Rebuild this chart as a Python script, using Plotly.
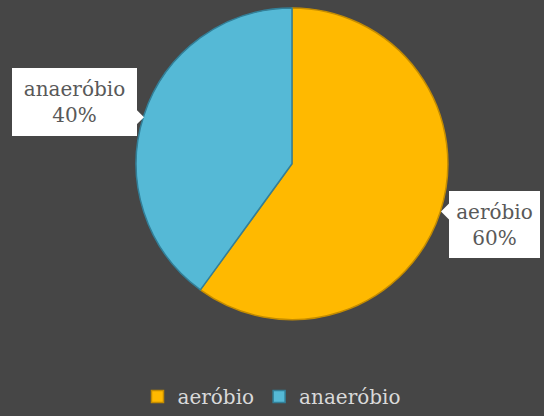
import plotly.graph_objects as go

# Chart data
labels = ["aeróbio", "anaeróbio"]
values = [60, 40]
colors = ["#FFB900", "#55B9D6"]
edge_colors = ["#C48C00", "#327F98"]

total = sum(values)
label_texts = [f"{lab}<br>{v / total * 100:.0f}%" for lab, v in zip(labels, values)]

W, H = 544, 416
BG = "#464646"
FONT = "Palatino Linotype, Book Antiqua, Palatino, DejaVu Serif, serif"

fig = go.Figure()
fig.add_trace(go.Pie(
    labels=labels,
    values=values,
    sort=False,
    direction="clockwise",
    rotation=0,
    marker=dict(colors=colors, line=dict(color=edge_colors, width=1.5)),
    textinfo="none",
    hoverinfo="label+percent",
    domain=dict(x=[135 / W, 449 / W], y=[1 - 322 / H, 1 - 8 / H]),
))

# Callout boxes for each slice
boxes = [
    # (center x px, center y px, width, height) for aeróbio and anaeróbio
    (494.5, 226.5, 87, 63),
    (74.5, 103.0, 121, 64),
]
for text, (cx, cy, bw, bh) in zip(label_texts, boxes):
    fig.add_annotation(
        x=cx / W, y=1 - cy / H, xref="paper", yref="paper",
        xanchor="center", yanchor="middle",
        text=text, showarrow=False,
        font=dict(family=FONT, size=20, color="#595959"),
        bgcolor="white", width=bw, height=bh, borderpad=2, borderwidth=0,
        align="center", valign="middle",
    )

# Small pointer triangles on the callouts
def px_path(points):
    segs = [f"{'M' if i == 0 else 'L'}{x / W:.5f},{1 - y / H:.5f}" for i, (x, y) in enumerate(points)]
    return " ".join(segs) + " Z"

pointers = [
    [(449, 205), (441, 213), (449, 221)],
    [(136, 110), (144, 118), (136, 126)],
]
for pts in pointers:
    fig.add_shape(type="path", xref="paper", yref="paper", path=px_path(pts),
                  fillcolor="white", line=dict(width=0))

fig.update_layout(
    width=W, height=H,
    margin=dict(l=0, r=0, t=0, b=0),
    paper_bgcolor=BG, plot_bgcolor=BG,
    showlegend=True,
    legend=dict(
        orientation="h", x=0.5, xanchor="center", y=-0.008, yanchor="bottom",
        font=dict(family=FONT, size=20, color="#D9D9D9"),
        bgcolor="rgba(0,0,0,0)", itemwidth=30,
    ),
)

fig.write_html("out.html")
